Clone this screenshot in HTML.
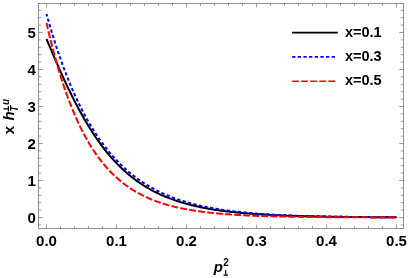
<!DOCTYPE html>
<html><head><meta charset="utf-8"><title>plot</title>
<style>html,body{margin:0;padding:0;background:#fff;overflow:hidden}svg{display:block;will-change:transform}</style>
</head><body>
<svg width="408" height="278" viewBox="0 0 408 278">
<rect x="0" y="0" width="408" height="278" fill="#fff"/>
<path d="M46.50,39.01 L47.90,42.33 L49.30,45.64 L50.70,48.94 L52.10,52.23 L53.50,55.50 L54.90,58.75 L56.30,61.97 L57.70,65.17 L59.10,68.35 L60.50,71.49 L61.90,74.61 L63.30,77.68 L64.70,80.73 L66.10,83.73 L67.50,86.70 L68.90,89.63 L70.30,92.52 L71.70,95.37 L73.10,98.17 L74.50,100.93 L75.90,103.65 L77.30,106.32 L78.70,108.95 L80.10,111.54 L81.50,114.07 L82.90,116.57 L84.30,119.01 L85.70,121.41 L87.10,123.77 L88.50,126.07 L89.90,128.34 L91.30,130.55 L92.70,132.73 L94.10,134.85 L95.50,136.94 L96.90,138.98 L98.30,140.97 L99.70,142.92 L101.10,144.83 L102.50,146.70 L103.90,148.52 L105.30,150.30 L106.70,152.05 L108.10,153.75 L109.50,155.41 L110.90,157.04 L112.30,158.62 L113.70,160.17 L115.10,161.68 L116.50,163.16 L117.90,164.59 L119.30,166.00 L120.70,167.37 L122.10,168.70 L123.50,170.00 L124.90,171.27 L126.30,172.51 L127.70,173.72 L129.10,174.89 L130.50,176.04 L131.90,177.16 L133.30,178.25 L134.70,179.31 L136.10,180.34 L137.50,181.35 L138.90,182.33 L140.30,183.28 L141.70,184.21 L143.10,185.12 L144.50,186.00 L145.90,186.86 L147.30,187.69 L148.70,188.50 L150.10,189.30 L151.50,190.07 L152.90,190.82 L154.30,191.55 L155.70,192.26 L157.10,192.95 L158.50,193.62 L159.90,194.28 L161.30,194.91 L162.70,195.53 L164.10,196.14 L165.50,196.72 L166.90,197.29 L168.30,197.85 L169.70,198.39 L171.10,198.91 L172.50,199.43 L173.90,199.92 L175.30,200.41 L176.70,200.88 L178.10,201.33 L179.50,201.78 L180.90,202.21 L182.30,202.63 L183.70,203.04 L185.10,203.44 L186.50,203.83 L187.90,204.20 L189.30,204.57 L190.70,204.92 L192.10,205.27 L193.50,205.61 L194.90,205.93 L196.30,206.25 L197.70,206.56 L199.10,206.86 L200.50,207.16 L201.90,207.44 L203.30,207.72 L204.70,207.99 L206.10,208.25 L207.50,208.50 L208.90,208.75 L210.30,208.99 L211.70,209.22 L213.10,209.45 L214.50,209.67 L215.90,209.89 L217.30,210.10 L218.70,210.30 L220.10,210.50 L221.50,210.69 L222.90,210.87 L224.30,211.06 L225.70,211.23 L227.10,211.40 L228.50,211.57 L229.90,211.73 L231.30,211.89 L232.70,212.05 L234.10,212.19 L235.50,212.34 L236.90,212.48 L238.30,212.62 L239.70,212.75 L241.10,212.88 L242.50,213.01 L243.90,213.13 L245.30,213.25 L246.70,213.37 L248.10,213.48 L249.50,213.59 L250.90,213.70 L252.30,213.80 L253.70,213.90 L255.10,214.00 L256.50,214.09 L257.90,214.19 L259.30,214.28 L260.70,214.36 L262.10,214.45 L263.50,214.53 L264.90,214.61 L266.30,214.69 L267.70,214.77 L269.10,214.84 L270.50,214.91 L271.90,214.98 L273.30,215.05 L274.70,215.12 L276.10,215.18 L277.50,215.25 L278.90,215.31 L280.30,215.37 L281.70,215.42 L283.10,215.48 L284.50,215.54 L285.90,215.59 L287.30,215.64 L288.70,215.69 L290.10,215.74 L291.50,215.79 L292.90,215.83 L294.30,215.88 L295.70,215.92 L297.10,215.97 L298.50,216.01 L299.90,216.05 L301.30,216.09 L302.70,216.12 L304.10,216.16 L305.50,216.20 L306.90,216.23 L308.30,216.27 L309.70,216.30 L311.10,216.33 L312.50,216.36 L313.90,216.39 L315.30,216.42 L316.70,216.45 L318.10,216.48 L319.50,216.51 L320.90,216.54 L322.30,216.56 L323.70,216.59 L325.10,216.61 L326.50,216.64 L327.90,216.66 L329.30,216.68 L330.70,216.70 L332.10,216.72 L333.50,216.75 L334.90,216.77 L336.30,216.79 L337.70,216.80 L339.10,216.82 L340.50,216.84 L341.90,216.86 L343.30,216.88 L344.70,216.89 L346.10,216.91 L347.50,216.93 L348.90,216.94 L350.30,216.96 L351.70,216.97 L353.10,216.98 L354.50,217.00 L355.90,217.01 L357.30,217.02 L358.70,217.04 L360.10,217.05 L361.50,217.06 L362.90,217.07 L364.30,217.08 L365.70,217.10 L367.10,217.11 L368.50,217.12 L369.90,217.13 L371.30,217.14 L372.70,217.15 L374.10,217.16 L375.50,217.17 L376.90,217.17 L378.30,217.18 L379.70,217.19 L381.10,217.20 L382.50,217.21 L383.90,217.22 L385.30,217.22 L386.70,217.23 L388.10,217.24 L389.50,217.25 L390.90,217.25 L392.30,217.26 L393.70,217.26 L395.10,217.27 L396.50,217.28" fill="none" stroke="#000000" stroke-width="2.0"/>
<path d="M46.50,14.00 L47.90,19.01 L49.30,23.89 L50.70,28.66 L52.10,33.32 L53.50,37.86 L54.90,42.30 L56.30,46.63 L57.70,50.85 L59.10,54.98 L60.50,59.00 L61.90,62.93 L63.30,66.76 L64.70,70.50 L66.10,74.15 L67.50,77.72 L68.90,81.19 L70.30,84.59 L71.70,87.90 L73.10,91.13 L74.50,94.28 L75.90,97.35 L77.30,100.35 L78.70,103.28 L80.10,106.14 L81.50,108.93 L82.90,111.65 L84.30,114.30 L85.70,116.89 L87.10,119.42 L88.50,121.88 L89.90,124.28 L91.30,126.63 L92.70,128.92 L94.10,131.15 L95.50,133.33 L96.90,135.45 L98.30,137.52 L99.70,139.54 L101.10,141.51 L102.50,143.43 L103.90,145.31 L105.30,147.14 L106.70,148.92 L108.10,150.66 L109.50,152.36 L110.90,154.02 L112.30,155.63 L113.70,157.20 L115.10,158.74 L116.50,160.24 L117.90,161.70 L119.30,163.12 L120.70,164.51 L122.10,165.86 L123.50,167.18 L124.90,168.47 L126.30,169.73 L127.70,170.95 L129.10,172.14 L130.50,173.31 L131.90,174.44 L133.30,175.55 L134.70,176.63 L136.10,177.68 L137.50,178.70 L138.90,179.70 L140.30,180.68 L141.70,181.63 L143.10,182.56 L144.50,183.46 L145.90,184.34 L147.30,185.20 L148.70,186.03 L150.10,186.85 L151.50,187.64 L152.90,188.42 L154.30,189.17 L155.70,189.91 L157.10,190.63 L158.50,191.33 L159.90,192.01 L161.30,192.67 L162.70,193.32 L164.10,193.95 L165.50,194.56 L166.90,195.16 L168.30,195.75 L169.70,196.32 L171.10,196.87 L172.50,197.41 L173.90,197.94 L175.30,198.45 L176.70,198.95 L178.10,199.44 L179.50,199.91 L180.90,200.38 L182.30,200.83 L183.70,201.27 L185.10,201.69 L186.50,202.11 L187.90,202.52 L189.30,202.91 L190.70,203.30 L192.10,203.67 L193.50,204.04 L194.90,204.40 L196.30,204.74 L197.70,205.08 L199.10,205.41 L200.50,205.73 L201.90,206.05 L203.30,206.35 L204.70,206.65 L206.10,206.94 L207.50,207.22 L208.90,207.49 L210.30,207.76 L211.70,208.02 L213.10,208.27 L214.50,208.52 L215.90,208.76 L217.30,208.99 L218.70,209.22 L220.10,209.44 L221.50,209.66 L222.90,209.87 L224.30,210.07 L225.70,210.27 L227.10,210.47 L228.50,210.66 L229.90,210.84 L231.30,211.02 L232.70,211.20 L234.10,211.37 L235.50,211.53 L236.90,211.69 L238.30,211.85 L239.70,212.00 L241.10,212.15 L242.50,212.30 L243.90,212.44 L245.30,212.57 L246.70,212.71 L248.10,212.84 L249.50,212.97 L250.90,213.09 L252.30,213.21 L253.70,213.33 L255.10,213.44 L256.50,213.55 L257.90,213.66 L259.30,213.76 L260.70,213.87 L262.10,213.96 L263.50,214.06 L264.90,214.16 L266.30,214.25 L267.70,214.34 L269.10,214.42 L270.50,214.51 L271.90,214.59 L273.30,214.67 L274.70,214.75 L276.10,214.82 L277.50,214.90 L278.90,214.97 L280.30,215.04 L281.70,215.11 L283.10,215.17 L284.50,215.24 L285.90,215.30 L287.30,215.36 L288.70,215.42 L290.10,215.48 L291.50,215.53 L292.90,215.59 L294.30,215.64 L295.70,215.69 L297.10,215.74 L298.50,215.79 L299.90,215.84 L301.30,215.89 L302.70,215.93 L304.10,215.97 L305.50,216.02 L306.90,216.06 L308.30,216.10 L309.70,216.14 L311.10,216.18 L312.50,216.21 L313.90,216.25 L315.30,216.28 L316.70,216.32 L318.10,216.35 L319.50,216.38 L320.90,216.41 L322.30,216.45 L323.70,216.47 L325.10,216.50 L326.50,216.53 L327.90,216.56 L329.30,216.59 L330.70,216.61 L332.10,216.64 L333.50,216.66 L334.90,216.68 L336.30,216.71 L337.70,216.73 L339.10,216.75 L340.50,216.77 L341.90,216.79 L343.30,216.81 L344.70,216.83 L346.10,216.85 L347.50,216.87 L348.90,216.89 L350.30,216.91 L351.70,216.92 L353.10,216.94 L354.50,216.96 L355.90,216.97 L357.30,216.99 L358.70,217.00 L360.10,217.01 L361.50,217.03 L362.90,217.04 L364.30,217.06 L365.70,217.07 L367.10,217.08 L368.50,217.09 L369.90,217.10 L371.30,217.12 L372.70,217.13 L374.10,217.14 L375.50,217.15 L376.90,217.16 L378.30,217.17 L379.70,217.18 L381.10,217.19 L382.50,217.20 L383.90,217.20 L385.30,217.21 L386.70,217.22 L388.10,217.23 L389.50,217.24 L390.90,217.24 L392.30,217.25 L393.70,217.26 L395.10,217.27 L396.50,217.27" fill="none" stroke="#0000ff" stroke-width="2.0" stroke-dasharray="3.3 2.35" stroke-dashoffset="0.82"/>
<path d="M46.50,22.88 L47.90,28.95 L49.30,34.84 L50.70,40.54 L52.10,46.06 L53.50,51.41 L54.90,56.59 L56.30,61.61 L57.70,66.47 L59.10,71.19 L60.50,75.75 L61.90,80.18 L63.30,84.46 L64.70,88.61 L66.10,92.63 L67.50,96.53 L68.90,100.30 L70.30,103.96 L71.70,107.50 L73.10,110.94 L74.50,114.26 L75.90,117.48 L77.30,120.60 L78.70,123.63 L80.10,126.56 L81.50,129.39 L82.90,132.14 L84.30,134.81 L85.70,137.39 L87.10,139.89 L88.50,142.31 L89.90,144.65 L91.30,146.93 L92.70,149.13 L94.10,151.26 L95.50,153.33 L96.90,155.33 L98.30,157.27 L99.70,159.15 L101.10,160.97 L102.50,162.74 L103.90,164.44 L105.30,166.10 L106.70,167.70 L108.10,169.26 L109.50,170.76 L110.90,172.22 L112.30,173.63 L113.70,175.00 L115.10,176.33 L116.50,177.61 L117.90,178.86 L119.30,180.06 L120.70,181.23 L122.10,182.36 L123.50,183.46 L124.90,184.52 L126.30,185.55 L127.70,186.55 L129.10,187.51 L130.50,188.45 L131.90,189.36 L133.30,190.23 L134.70,191.08 L136.10,191.91 L137.50,192.71 L138.90,193.48 L140.30,194.23 L141.70,194.96 L143.10,195.66 L144.50,196.34 L145.90,197.00 L147.30,197.64 L148.70,198.26 L150.10,198.86 L151.50,199.44 L152.90,200.01 L154.30,200.55 L155.70,201.08 L157.10,201.59 L158.50,202.09 L159.90,202.57 L161.30,203.04 L162.70,203.49 L164.10,203.92 L165.50,204.35 L166.90,204.76 L168.30,205.16 L169.70,205.54 L171.10,205.91 L172.50,206.28 L173.90,206.63 L175.30,206.97 L176.70,207.29 L178.10,207.61 L179.50,207.92 L180.90,208.22 L182.30,208.51 L183.70,208.79 L185.10,209.06 L186.50,209.33 L187.90,209.58 L189.30,209.83 L190.70,210.07 L192.10,210.30 L193.50,210.52 L194.90,210.74 L196.30,210.95 L197.70,211.16 L199.10,211.35 L200.50,211.55 L201.90,211.73 L203.30,211.91 L204.70,212.09 L206.10,212.26 L207.50,212.42 L208.90,212.58 L210.30,212.73 L211.70,212.88 L213.10,213.02 L214.50,213.16 L215.90,213.30 L217.30,213.43 L218.70,213.56 L220.10,213.68 L221.50,213.80 L222.90,213.91 L224.30,214.03 L225.70,214.13 L227.10,214.24 L228.50,214.34 L229.90,214.44 L231.30,214.54 L232.70,214.63 L234.10,214.72 L235.50,214.80 L236.90,214.89 L238.30,214.97 L239.70,215.05 L241.10,215.13 L242.50,215.20 L243.90,215.27 L245.30,215.34 L246.70,215.41 L248.10,215.47 L249.50,215.54 L250.90,215.60 L252.30,215.66 L253.70,215.71 L255.10,215.77 L256.50,215.82 L257.90,215.88 L259.30,215.93 L260.70,215.98 L262.10,216.02 L263.50,216.07 L264.90,216.11 L266.30,216.16 L267.70,216.20 L269.10,216.24 L270.50,216.28 L271.90,216.32 L273.30,216.35 L274.70,216.39 L276.10,216.43 L277.50,216.46 L278.90,216.49 L280.30,216.52 L281.70,216.55 L283.10,216.58 L284.50,216.61 L285.90,216.64 L287.30,216.67 L288.70,216.69 L290.10,216.72 L291.50,216.74 L292.90,216.77 L294.30,216.79 L295.70,216.81 L297.10,216.83 L298.50,216.85 L299.90,216.87 L301.30,216.89 L302.70,216.91 L304.10,216.93 L305.50,216.95 L306.90,216.96 L308.30,216.98 L309.70,217.00 L311.10,217.01 L312.50,217.03 L313.90,217.04 L315.30,217.06 L316.70,217.07 L318.10,217.08 L319.50,217.10 L320.90,217.11 L322.30,217.12 L323.70,217.13 L325.10,217.15 L326.50,217.16 L327.90,217.17 L329.30,217.18 L330.70,217.19 L332.10,217.20 L333.50,217.21 L334.90,217.22 L336.30,217.22 L337.70,217.23 L339.10,217.24 L340.50,217.25 L341.90,217.26 L343.30,217.27 L344.70,217.27 L346.10,217.28 L347.50,217.29 L348.90,217.29 L350.30,217.30 L351.70,217.31 L353.10,217.31 L354.50,217.32 L355.90,217.32 L357.30,217.33 L358.70,217.33 L360.10,217.34 L361.50,217.34 L362.90,217.35 L364.30,217.35 L365.70,217.36 L367.10,217.36 L368.50,217.37 L369.90,217.37 L371.30,217.38 L372.70,217.38 L374.10,217.38 L375.50,217.39 L376.90,217.39 L378.30,217.39 L379.70,217.40 L381.10,217.40 L382.50,217.40 L383.90,217.41 L385.30,217.41 L386.70,217.41 L388.10,217.41 L389.50,217.42 L390.90,217.42 L392.30,217.42 L393.70,217.43 L395.10,217.43 L396.50,217.43" fill="none" stroke="#ff0000" stroke-width="2.0" stroke-dasharray="6.85 2.2" stroke-dashoffset="0.47"/>
<rect x="38.5" y="3.5" width="365.00" height="225.00" fill="none" stroke="#666666" stroke-width="0.72"/>
<path d="M46.50,228.5v-3.8 M46.50,3.5v3.8 M60.50,228.5v-2.4 M60.50,3.5v2.4 M74.50,228.5v-2.4 M74.50,3.5v2.4 M88.50,228.5v-2.4 M88.50,3.5v2.4 M102.50,228.5v-2.4 M102.50,3.5v2.4 M116.50,228.5v-3.8 M116.50,3.5v3.8 M130.50,228.5v-2.4 M130.50,3.5v2.4 M144.50,228.5v-2.4 M144.50,3.5v2.4 M158.50,228.5v-2.4 M158.50,3.5v2.4 M172.50,228.5v-2.4 M172.50,3.5v2.4 M186.50,228.5v-3.8 M186.50,3.5v3.8 M200.50,228.5v-2.4 M200.50,3.5v2.4 M214.50,228.5v-2.4 M214.50,3.5v2.4 M228.50,228.5v-2.4 M228.50,3.5v2.4 M242.50,228.5v-2.4 M242.50,3.5v2.4 M256.50,228.5v-3.8 M256.50,3.5v3.8 M270.50,228.5v-2.4 M270.50,3.5v2.4 M284.50,228.5v-2.4 M284.50,3.5v2.4 M298.50,228.5v-2.4 M298.50,3.5v2.4 M312.50,228.5v-2.4 M312.50,3.5v2.4 M326.50,228.5v-3.8 M326.50,3.5v3.8 M340.50,228.5v-2.4 M340.50,3.5v2.4 M354.50,228.5v-2.4 M354.50,3.5v2.4 M368.50,228.5v-2.4 M368.50,3.5v2.4 M382.50,228.5v-2.4 M382.50,3.5v2.4 M396.50,228.5v-3.8 M396.50,3.5v3.8 M38.5,224.90h2.8 M403.5,224.90h-2.8 M38.5,217.50h4.3 M403.5,217.50h-4.3 M38.5,210.10h2.8 M403.5,210.10h-2.8 M38.5,202.70h2.8 M403.5,202.70h-2.8 M38.5,195.30h2.8 M403.5,195.30h-2.8 M38.5,187.90h2.8 M403.5,187.90h-2.8 M38.5,180.50h4.3 M403.5,180.50h-4.3 M38.5,173.10h2.8 M403.5,173.10h-2.8 M38.5,165.70h2.8 M403.5,165.70h-2.8 M38.5,158.30h2.8 M403.5,158.30h-2.8 M38.5,150.90h2.8 M403.5,150.90h-2.8 M38.5,143.50h4.3 M403.5,143.50h-4.3 M38.5,136.10h2.8 M403.5,136.10h-2.8 M38.5,128.70h2.8 M403.5,128.70h-2.8 M38.5,121.30h2.8 M403.5,121.30h-2.8 M38.5,113.90h2.8 M403.5,113.90h-2.8 M38.5,106.50h4.3 M403.5,106.50h-4.3 M38.5,99.10h2.8 M403.5,99.10h-2.8 M38.5,91.70h2.8 M403.5,91.70h-2.8 M38.5,84.30h2.8 M403.5,84.30h-2.8 M38.5,76.90h2.8 M403.5,76.90h-2.8 M38.5,69.50h4.3 M403.5,69.50h-4.3 M38.5,62.10h2.8 M403.5,62.10h-2.8 M38.5,54.70h2.8 M403.5,54.70h-2.8 M38.5,47.30h2.8 M403.5,47.30h-2.8 M38.5,39.90h2.8 M403.5,39.90h-2.8 M38.5,32.50h4.3 M403.5,32.50h-4.3 M38.5,25.10h2.8 M403.5,25.10h-2.8 M38.5,17.70h2.8 M403.5,17.70h-2.8 M38.5,10.30h2.8 M403.5,10.30h-2.8" fill="none" stroke="#666666" stroke-width="0.62"/>
<text x="46.50" y="246.2" text-anchor="middle" style="font-family:'Liberation Sans',sans-serif;font-weight:bold;font-size:15px;fill:#000">0.0</text>
<text x="116.50" y="246.2" text-anchor="middle" style="font-family:'Liberation Sans',sans-serif;font-weight:bold;font-size:15px;fill:#000">0.1</text>
<text x="186.50" y="246.2" text-anchor="middle" style="font-family:'Liberation Sans',sans-serif;font-weight:bold;font-size:15px;fill:#000">0.2</text>
<text x="256.50" y="246.2" text-anchor="middle" style="font-family:'Liberation Sans',sans-serif;font-weight:bold;font-size:15px;fill:#000">0.3</text>
<text x="326.50" y="246.2" text-anchor="middle" style="font-family:'Liberation Sans',sans-serif;font-weight:bold;font-size:15px;fill:#000">0.4</text>
<text x="396.50" y="246.2" text-anchor="middle" style="font-family:'Liberation Sans',sans-serif;font-weight:bold;font-size:15px;fill:#000">0.5</text>
<text x="35.8" y="222.90" text-anchor="end" style="font-family:'Liberation Sans',sans-serif;font-weight:bold;font-size:15px;fill:#000">0</text>
<text x="35.8" y="185.90" text-anchor="end" style="font-family:'Liberation Sans',sans-serif;font-weight:bold;font-size:15px;fill:#000">1</text>
<text x="35.8" y="148.90" text-anchor="end" style="font-family:'Liberation Sans',sans-serif;font-weight:bold;font-size:15px;fill:#000">2</text>
<text x="35.8" y="111.90" text-anchor="end" style="font-family:'Liberation Sans',sans-serif;font-weight:bold;font-size:15px;fill:#000">3</text>
<text x="35.8" y="74.90" text-anchor="end" style="font-family:'Liberation Sans',sans-serif;font-weight:bold;font-size:15px;fill:#000">4</text>
<text x="35.8" y="37.90" text-anchor="end" style="font-family:'Liberation Sans',sans-serif;font-weight:bold;font-size:15px;fill:#000">5</text>
<path d="M292.1,32.6H337.8" fill="none" stroke="#000000" stroke-width="1.7"/>
<text x="345" y="36.50" style="font-family:'Liberation Sans',sans-serif;font-weight:bold;font-size:15px;fill:#000;font-size:14.5px">x=0.1</text>
<path d="M292.1,56.9H335.1" fill="none" stroke="#0000ff" stroke-width="1.7" stroke-dasharray="3.3 2.35"/>
<text x="345" y="60.80" style="font-family:'Liberation Sans',sans-serif;font-weight:bold;font-size:15px;fill:#000;font-size:14.5px">x=0.3</text>
<path d="M292.1,81.25H335.1" fill="none" stroke="#ff0000" stroke-width="1.7" stroke-dasharray="6.85 2.2"/>
<text x="345" y="85.15" style="font-family:'Liberation Sans',sans-serif;font-weight:bold;font-size:15px;fill:#000;font-size:14.5px">x=0.5</text>
<text x="213.8" y="271.5" style="font-family:'Liberation Sans',sans-serif;font-weight:bold;font-size:15px;fill:#000;font-style:italic">p</text>
<text x="223.3" y="265.6" style="font-family:'Liberation Sans',sans-serif;font-weight:bold;font-size:15px;fill:#000;font-size:10px">2</text>
<path d="M225.7,270.0V275.6 M223.5,275.2H228.0" stroke="#000" stroke-width="1.2" fill="none"/>
<g transform="translate(14.1,134.2) rotate(-90)"><text x="0" y="0" style="font-family:'Liberation Sans',sans-serif;font-weight:bold;font-size:15px;fill:#000">x</text><text x="13.6" y="0" style="font-family:'Liberation Sans',sans-serif;font-weight:bold;font-size:15px;fill:#000;font-style:italic">h</text><path d="M22.6,-5.7h5.6 M25.4,-5.7v-5" stroke="#000" stroke-width="1.2" fill="none"/><text x="29.3" y="-5.6" style="font-family:'Liberation Sans',sans-serif;font-weight:bold;font-size:15px;fill:#000;font-size:10px;font-style:italic">u</text><text x="22.5" y="3.5" style="font-family:'Liberation Sans',sans-serif;font-weight:bold;font-size:15px;fill:#000;font-size:10px;font-style:italic">T</text></g>
</svg>
</body></html>
